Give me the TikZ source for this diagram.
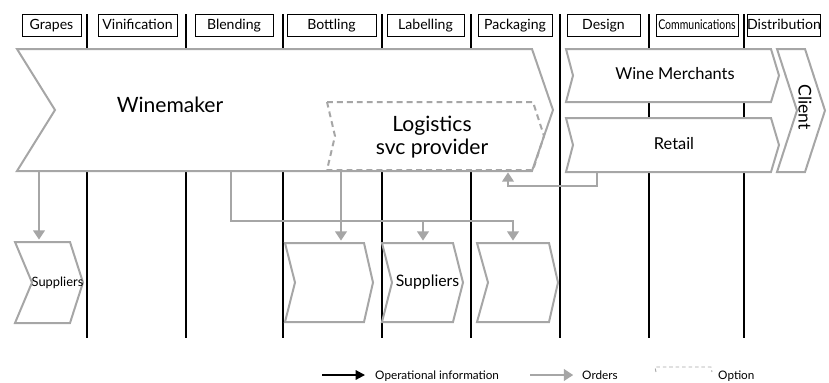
\documentclass[tikz,border=0pt]{standalone}
\usepackage{fontspec}
\setmainfont{Lato}
\usepackage{graphicx}
\usetikzlibrary{arrows.meta, positioning, fit, calc}
\definecolor{chaingray}{RGB}{166, 166, 166}

% chevron: [style]{name}{left}{top}{right}{bottom}{notch}{tip}
\newcommand{\chevron}[8][chevline]{%
    \coordinate (#2-nw) at (#3,#4);
    \coordinate (#2-se) at (#5,#6);
    \node[fit=(#2-nw)(#2-se), inner sep=0pt, outer sep=0pt] (#2) {};
    \draw[#1] (#2.north west) -- (#2.north east) -- ($(#2.east)+(#8,0)$)
        -- (#2.south east) -- (#2.south west) -- ($(#2.west)+(#7,0)$) -- cycle;
}

\begin{document}
\begin{tikzpicture}[
    x=0.03cm, y=-0.03cm,
    stagebox/.style={draw, line width=0.8pt, fill=white, minimum height=0.66cm,
                     inner sep=0pt, text height=0.72em, text depth=0pt,
                     font=\fontsize{12}{12}\selectfont},
    laneline/.style={line width=1.8pt, black},
    chevline/.style={draw=chaingray, line width=1.7pt, fill=white},
    optionline/.style={draw=chaingray, line width=1.7pt, dash pattern=on 5pt off 3.5pt},
    orderline/.style={draw=chaingray, line width=1.7pt, shorten >=2pt,
                      -{Triangle[length=8pt, width=10pt]}},
    infoline/.style={draw=black, line width=1.7pt, -{Triangle[length=8pt, width=8pt]}},
    bigtext/.style={font=\fontsize{18}{20}\selectfont, align=center, inner sep=0pt},
    midtext/.style={font=\fontsize{14}{16}\selectfont, inner sep=0pt},
    legtext/.style={font=\fontsize{10}{12}\selectfont, anchor=west, inner sep=0pt,
                    text height=0.72em, text depth=0pt},
]
    \useasboundingbox (0,0) rectangle (829,382);

    % lanes
    \foreach \x in {87,186,283,382,471,560,649,744}
        \draw[laneline] (\x,14) -- (\x,338);

    % stages
    \foreach \cx/\w/\lbl in {51.5/1.77/Grapes, 137.5/2.37/Vinification,
                             234/2.34/Blending, 331.5/2.67/Bottling,
                             425.5/2.31/Labelling, 515/2.22/Packaging,
                             603.5/2.19/Design, 784/1.98/Distribution}
        \node[stagebox, minimum width=\w cm] (hd-\lbl) at (\cx,25) {\lbl};
    \node[stagebox, minimum width=2.46cm] (hd-Communications) at (697,25)
        {\scalebox{0.78}[1]{\fontsize{11.5}{12}\selectfont Communications}};

    % chain
    \chevron{winemaker}{17}{49}{532}{171}{38}{21}
    \chevron[optionline]{logistics}{327}{102}{533}{170}{8}{11}
    \chevron{merchants}{566}{49}{771}{102}{7}{8}
    \chevron{retail}{566}{118}{771}{172}{7}{8}
    \chevron{client}{777}{49}{805}{172}{20}{20}

    % suppliers
    \chevron{s1}{15}{242}{70}{323}{17}{13}
    \chevron{s2}{285}{243}{364}{322}{10}{9}
    \chevron{s3}{382}{243}{453}{322}{10}{10}
    \chevron{s4}{477}{243}{549}{322}{11}{9}

    % labels
    \node[bigtext] (winemakertext) at (170,105) {Winemaker};
    \node[bigtext] (logisticstext) at (432,137) {Logistics\\svc provider};
    \node[midtext] (merchantstext) at (675,74) {Wine Merchants};
    \node[midtext] (retailtext) at (674,144) {Retail};
    \node[midtext, font=\fontsize{15}{16}\selectfont, rotate=-90] (clienttext) at (805,107) {Client};
    \node[font=\fontsize{11}{12}\selectfont, inner sep=0pt] (s1text) at (57.5,283) {Suppliers};
    \node[font=\fontsize{13.5}{14}\selectfont, inner sep=0pt] (s3text) at (427.5,282) {Suppliers};

    % orders
    \coordinate (grapesdrop) at (39,0);
    \coordinate (blenddrop) at (231,0);
    \coordinate (bottledrop) at (341,0);
    \coordinate (labeldrop) at (423,0);
    \coordinate (orderbus) at (0,221);
    \coordinate (retailloop) at (597,186);
    \coordinate (logisticsloop) at (508,186);

    \draw[orderline] (winemaker.south -| grapesdrop) -- (s1.north -| grapesdrop);
    \draw[orderline] (winemaker.south -| blenddrop) |- (orderbus -| s4.north) -- (s4.north);
    \draw[orderline] (orderbus -| labeldrop) -- (s3.north -| labeldrop);
    \draw[orderline] (logistics.south -| bottledrop) -- (s2.north -| bottledrop);
    \draw[orderline] (retail.south -| retailloop) |- (logisticsloop)
        -- (logistics.south -| logisticsloop);

    % legend
    \node[legtext] (leginfo) at (375,375) {Operational information};
    \node[legtext] (legorders) at (582,375) {Orders};
    \node[legtext] (legoption) at (718,375) {Option};
    \coordinate (leginfo-start) at (322,375);
    \coordinate (legorders-start) at (530,375);
    \draw[infoline] (leginfo-start) -- ([xshift=-8.5pt]leginfo.west);
    \draw[orderline, shorten >=0pt] (legorders-start) -- ([xshift=-7.5pt]legorders.west);
    \draw[chaingray, line width=0.8pt, dash pattern=on 3pt off 2.5pt]
        (656,372) -- (655,367) -- (711,367) -- (712,372);
\end{tikzpicture}
\end{document}
